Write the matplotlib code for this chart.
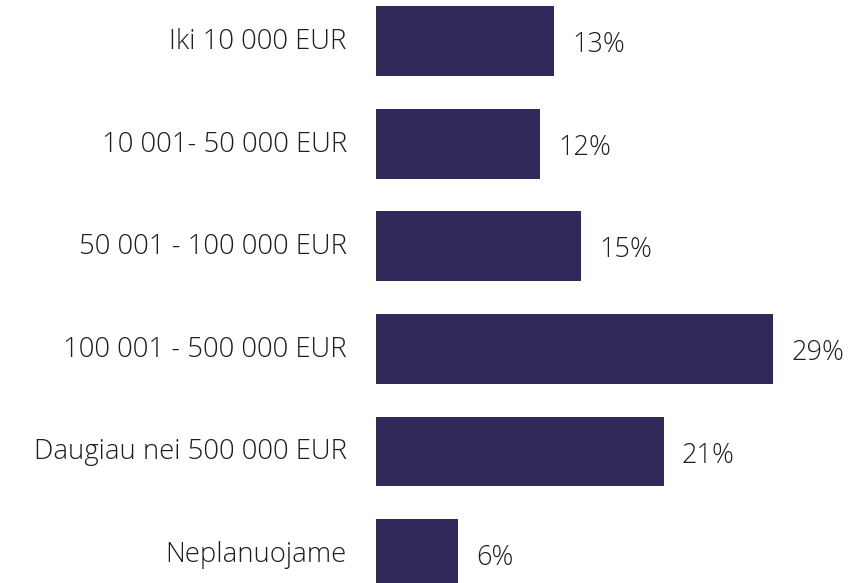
import matplotlib
matplotlib.use("Agg")
import matplotlib.pyplot as plt
from matplotlib.transforms import ScaledTranslation

# investment amount categories and share of respondents (%)
categories = ["Iki 10 000 EUR", "10 001- 50 000 EUR", "50 001 - 100 000 EUR",
              "100 001 - 500 000 EUR", "Daugiau nei 500 000 EUR", "Neplanuojame"]
shares = [13, 12, 15, 29, 21, 6]

bar_color = "#302a5a"
text_color = "#1e1e1e"

plt.rcParams["font.family"] = ["Open Sans", "DejaVu Sans"]

fig = plt.figure(figsize=(8.53, 5.83), dpi=100)
ax = fig.add_axes([0.4408, 0.0, 0.5592, 1.0])

pos = list(range(len(categories)))
bars = ax.barh(pos, shares, height=0.68, color=bar_color)

ax.set_xlim(0, 34.84)
ax.set_ylim(5.283, -0.4)

ax.set_yticks(pos)
ax.set_yticklabels(categories, fontsize=19.8, fontweight="light", color=text_color)
ax.tick_params(axis="y", length=0, pad=21)
# nudge category labels up a little
shift = ScaledTranslation(0, 2.5 / 100, fig.dpi_scale_trans)
for lbl in ax.get_yticklabels():
    lbl.set_transform(lbl.get_transform() + shift)
ax.set_xticks([])
for s in ax.spines.values():
    s.set_visible(False)

for b, v in zip(bars, shares):
    ax.annotate(f"{v}%", xy=(b.get_width(), b.get_y() + b.get_height() / 2),
                xytext=(13, -3), textcoords="offset points",
                va="center", ha="left", fontsize=19.5, fontweight="light",
                color=text_color)

fig.savefig("out.png", dpi=100)
